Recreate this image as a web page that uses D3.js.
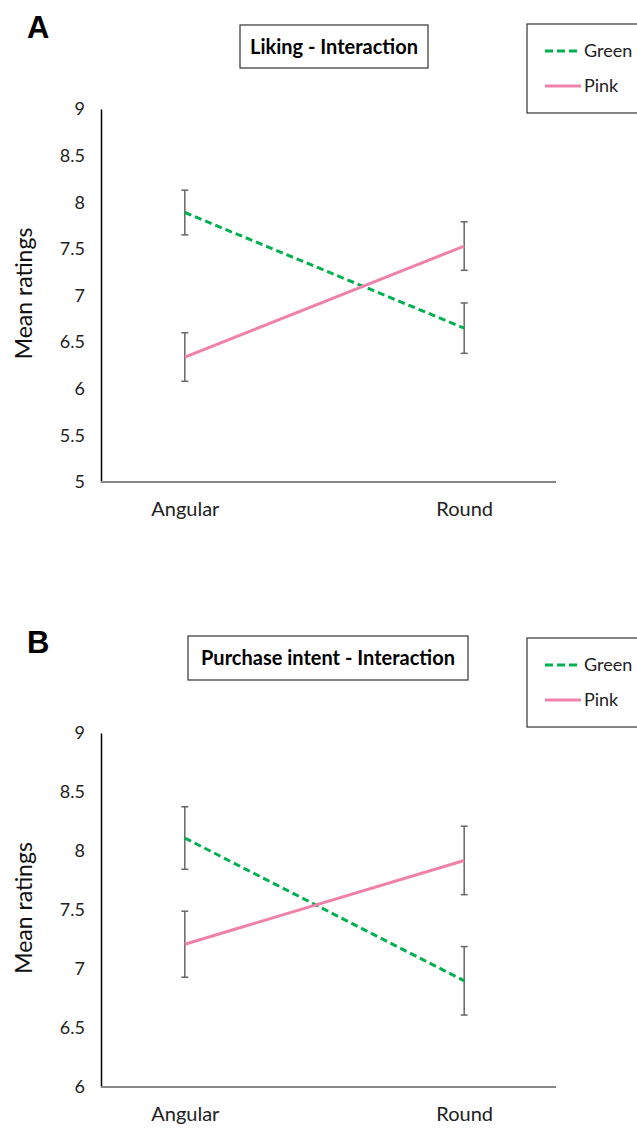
<!DOCTYPE html>
<html>
<head>
<meta charset="utf-8">
<script src="https://cdn.jsdelivr.net/npm/d3@7"></script>
<style>
  body { margin: 0; background: #fff; }
  text { font-family: Lato, "Open Sans", sans-serif; }
</style>
</head>
<body>
<svg id="chart"></svg>
<script>
const width = 637;
const height = 1129;

const conditions = ['Angular', 'Round'];
const seriesNames = ['Green', 'Pink'];

// panel A - liking
const likingGreen = [7.89, 6.65];
const likingGreenErr = [0.24, 0.27];
const likingPink = [6.34, 7.53];
const likingPinkErr = [0.26, 0.26];
const likingTicks = [5, 5.5, 6, 6.5, 7, 7.5, 8, 8.5, 9];

// panel B - purchase intent
const purchaseGreen = [8.11, 6.90];
const purchaseGreenErr = [0.265, 0.29];
const purchasePink = [7.21, 7.92];
const purchasePinkErr = [0.28, 0.29];
const purchaseTicks = [6, 6.5, 7, 7.5, 8, 8.5, 9];

const colors = {Green: '#00b050', Pink: '#f082aa'};
const dashes = {Green: '7,4', Pink: null};

const svg = d3.select('#chart')
    .attr('width', width)
    .attr('height', height);

function drawPanel(p) {
    const g = svg.append('g');

    const x = d3.scalePoint().domain(conditions).range([p.left, p.right - 8]).padding(0.3);
    const y = d3.scaleLinear().domain(d3.extent(p.ticks)).range([p.bottom, p.top]);

    // panel letter
    g.append('text')
        .attr('x', 27).attr('y', p.letterY)
        .style('font-family', 'Liberation Sans, Arial, sans-serif')
        .style('font-weight', 'bold').style('font-size', '31px')
        .text(p.letter);

    // title box
    g.append('rect')
        .attr('x', p.titleBox[0]).attr('y', p.titleBox[1])
        .attr('width', p.titleBox[2]).attr('height', p.titleBox[3])
        .attr('fill', 'none').attr('stroke', '#333').attr('stroke-width', 1.2);
    g.append('text')
        .attr('x', p.titleBox[0] + p.titleBox[2] / 2)
        .attr('y', p.titleBox[1] + p.titleBox[3] / 2 + 7)
        .attr('text-anchor', 'middle')
        .style('font-weight', 'bold').style('font-size', '20px')
        .text(p.title);

    // y axis
    const yAxis = g.append('g')
        .attr('transform', `translate(${p.left},0)`)
        .call(d3.axisLeft(y).tickValues(p.ticks).tickSize(0).tickPadding(16).tickFormat(d3.format('')));
    yAxis.select('.domain').attr('stroke', '#000').attr('stroke-width', 1.5);
    yAxis.selectAll('text').style('font-size', '18px').attr('fill', '#222').style('font-family', 'Lato, sans-serif');

    // x axis
    g.append('line')
        .attr('x1', p.left).attr('x2', p.right)
        .attr('y1', p.bottom).attr('y2', p.bottom)
        .attr('stroke', '#888').attr('stroke-width', 2);
    const xAxis = g.append('g')
        .attr('transform', `translate(0,${p.bottom})`)
        .call(d3.axisBottom(x).tickSize(0).tickPadding(20));
    xAxis.select('.domain').remove();
    xAxis.selectAll('text').style('font-size', '20px').attr('fill', '#222').style('font-family', 'Lato, sans-serif');

    // y label
    g.append('text')
        .attr('transform', `translate(32,${(p.top + p.bottom) / 2 - 2}) rotate(-90)`)
        .attr('text-anchor', 'middle')
        .style('font-size', '23px').attr('fill', '#111')
        .text('Mean ratings');

    // error bars
    p.series.forEach(s => {
        const eb = g.append('g');
        conditions.forEach((c, i) => {
            const lo = y(s.values[i] - s.err[i]);
            const hi = y(s.values[i] + s.err[i]);
            eb.append('line').attr('x1', x(c)).attr('x2', x(c)).attr('y1', lo).attr('y2', hi)
                .attr('stroke', '#666').attr('stroke-width', 1.5);
            [lo, hi].forEach(v => {
                eb.append('line').attr('x1', x(c) - 3.5).attr('x2', x(c) + 3.5).attr('y1', v).attr('y2', v)
                    .attr('stroke', '#666').attr('stroke-width', 1.5);
            });
        });
    });

    // lines
    p.series.forEach(s => {
        g.append('path')
            .datum(conditions.map((c, i) => ({c: c, v: s.values[i]})))
            .attr('fill', 'none')
            .attr('stroke', colors[s.name])
            .attr('stroke-width', 3)
            .attr('stroke-dasharray', dashes[s.name])
            .attr('d', d3.line().x(d => x(d.c)).y(d => y(d.v)));
    });

    // legend
    const lg = g.append('g').attr('transform', `translate(527,${p.legendY})`);
    lg.append('rect').attr('width', 120).attr('height', 89)
        .attr('fill', 'none').attr('stroke', '#333').attr('stroke-width', 1.2);
    seriesNames.forEach((name, i) => {
        const ly = 27 + i * 35;
        lg.append('line').attr('x1', 18).attr('x2', 54).attr('y1', ly).attr('y2', ly)
            .attr('stroke', colors[name]).attr('stroke-width', 3)
            .attr('stroke-dasharray', name === 'Green' ? '8,4' : null);
        lg.append('text').attr('x', 57).attr('y', ly + 6)
            .style('font-size', '18px').attr('fill', '#222')
            .text(name);
    });
}

drawPanel({
    letter: 'A', letterY: 38,
    title: 'Liking - Interaction', titleBox: [240, 25, 188, 43],
    legendY: 24,
    top: 109, bottom: 482, left: 101, right: 556,
    ticks: likingTicks,
    series: [
        {name: 'Green', values: likingGreen, err: likingGreenErr},
        {name: 'Pink', values: likingPink, err: likingPinkErr}
    ]
});

drawPanel({
    letter: 'B', letterY: 653,
    title: 'Purchase intent - Interaction', titleBox: [188, 636, 280, 44],
    legendY: 638,
    top: 733, bottom: 1087, left: 101, right: 556,
    ticks: purchaseTicks,
    series: [
        {name: 'Green', values: purchaseGreen, err: purchaseGreenErr},
        {name: 'Pink', values: purchasePink, err: purchasePinkErr}
    ]
});
</script>
</body>
</html>
